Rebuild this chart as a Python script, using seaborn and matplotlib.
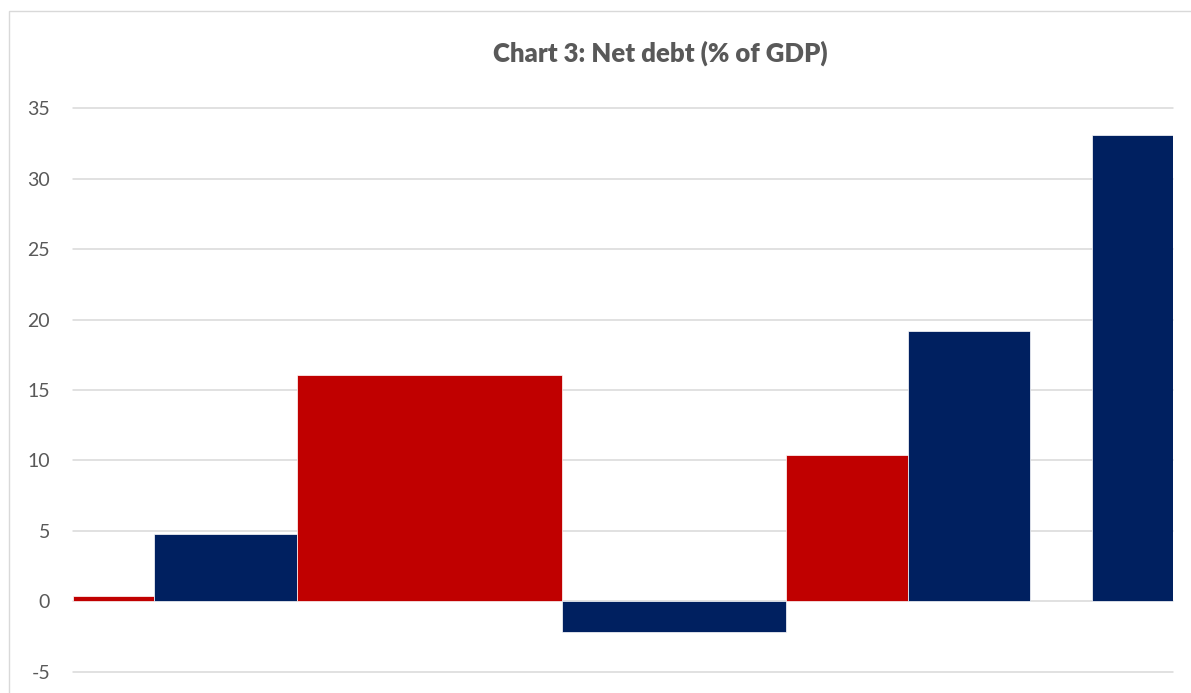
import matplotlib
matplotlib.use("Agg")
import matplotlib.pyplot as plt
import seaborn as sns
import pandas as pd
from matplotlib.patches import Rectangle

# ---- data ----
series = ["red", "navy", "red", "navy", "red", "navy", "navy"]
bar_left = [0, 4, 11, 24, 35, 41, 50]      # variable-width bar left edges
bar_width = [4, 7, 13, 11, 6, 6, 4]         # variable widths
values = [0.4, 4.8, 16.1, -2.2, 10.4, 19.2, 33.1]
y_ticks = [-5, 0, 5, 10, 15, 20, 25, 30, 35]
title = "Chart 3: Net debt (% of GDP)"

palette = {"red": "#C00000", "navy": "#002060"}

df = pd.DataFrame({"series": series, "left": bar_left, "width": bar_width, "value": values})

sns.set_theme(style="white")
plt.rcParams["font.family"] = ["Lato", "DejaVu Sans"]

W, H = 1191, 693
fig = plt.figure(figsize=(W / 100, H / 100), dpi=100)
fig.patch.set_facecolor("white")

ax = fig.add_axes([73 / W, 1 - 671.7 / H, 1100 / W, (671.7 - 108.3) / H])
ax.set_facecolor("white")

ax.bar(df["left"], df["value"], width=df["width"], align="edge",
       color=[palette[s] for s in df["series"]], edgecolor="#ffffff",
       linewidth=0.5, zorder=3)

ax.set_xlim(0, 54)
ax.set_ylim(-5, 35)
ax.set_yticks(y_ticks)
ax.set_yticklabels([str(t) for t in y_ticks])
ax.set_xticks([])
ax.yaxis.grid(True, color="#D9D9D9", linewidth=1.1, zorder=0)
for gl in ax.get_ygridlines():
    gl.set_clip_on(False)
ax.set_axisbelow(True)
ax.tick_params(axis="y", length=0, pad=16.5, labelsize=14, labelcolor="#595959")
sns.despine(ax=ax, left=True, bottom=True, top=True, right=True)

fig.text(660 / W, 1 - 61.7 / H, title, ha="center", va="baseline",
         fontsize=18.5, fontweight="heavy", color="#595959")

# chart frame
fig.patches.append(Rectangle((8.5 / W, 1 - 720 / H), 1200 / W, (720 - 10.5) / H,
                             transform=fig.transFigure, fill=False,
                             edgecolor="#D9D9D9", linewidth=1.0, clip_on=False))

fig.savefig("out.png", dpi=100)
